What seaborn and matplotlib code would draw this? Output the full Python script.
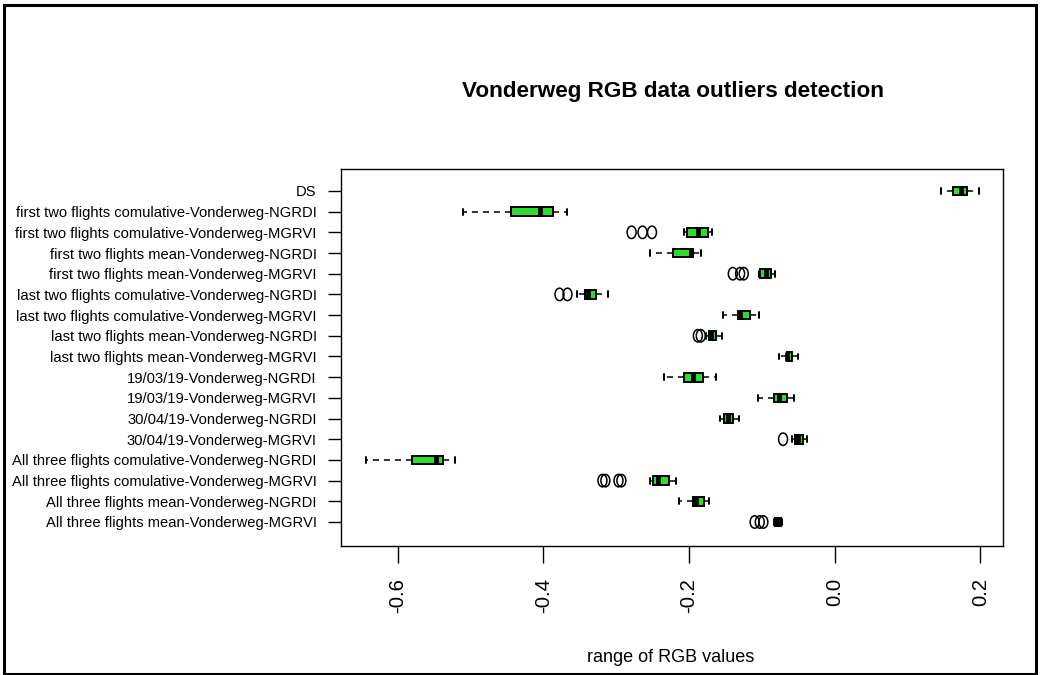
import matplotlib
matplotlib.use("Agg")
import matplotlib.pyplot as plt
import seaborn as sns
import pandas as pd
import numpy as np
from matplotlib.patches import Rectangle
from matplotlib.path import Path
from matplotlib.transforms import Affine2D

categories = [
    "DS",
    "first two flights comulative-Vonderweg-NGRDI",
    "first two flights comulative-Vonderweg-MGRVI",
    "first two flights mean-Vonderweg-NGRDI",
    "first two flights mean-Vonderweg-MGRVI",
    "last two flights comulative-Vonderweg-NGRDI",
    "last two flights comulative-Vonderweg-MGRVI",
    "last two flights mean-Vonderweg-NGRDI",
    "last two flights mean-Vonderweg-MGRVI",
    "19/03/19-Vonderweg-NGRDI",
    "19/03/19-Vonderweg-MGRVI",
    "30/04/19-Vonderweg-NGRDI",
    "30/04/19-Vonderweg-MGRVI",
    "All three flights comulative-Vonderweg-NGRDI",
    "All three flights comulative-Vonderweg-MGRVI",
    "All three flights mean-Vonderweg-NGRDI",
    "All three flights mean-Vonderweg-MGRVI",
]
whisker_low = [0.146, -0.511, -0.207, -0.254, -0.104, -0.354, -0.154, -0.177, -0.077,
               -0.234, -0.106, -0.158, -0.059, -0.644, -0.254, -0.214, -0.084]
q1 = [0.162, -0.444, -0.203, -0.222, -0.102, -0.343, -0.133, -0.173, -0.066,
      -0.207, -0.084, -0.152, -0.054, -0.581, -0.250, -0.195, -0.082]
median = [0.173, -0.405, -0.188, -0.198, -0.095, -0.339, -0.130, -0.170, -0.065,
          -0.195, -0.076, -0.147, -0.051, -0.547, -0.243, -0.190, -0.080]
q3 = [0.181, -0.387, -0.174, -0.194, -0.088, -0.328, -0.117, -0.163, -0.059,
      -0.181, -0.066, -0.140, -0.043, -0.538, -0.227, -0.180, -0.074]
whisker_high = [0.198, -0.368, -0.168, -0.184, -0.082, -0.312, -0.104, -0.155, -0.051,
                -0.163, -0.056, -0.132, -0.038, -0.521, -0.218, -0.173, -0.073]

outlier_cats = [
    "first two flights comulative-Vonderweg-MGRVI",
    "first two flights comulative-Vonderweg-MGRVI",
    "first two flights comulative-Vonderweg-MGRVI",
    "first two flights mean-Vonderweg-MGRVI",
    "first two flights mean-Vonderweg-MGRVI",
    "first two flights mean-Vonderweg-MGRVI",
    "last two flights comulative-Vonderweg-NGRDI",
    "last two flights comulative-Vonderweg-NGRDI",
    "last two flights mean-Vonderweg-NGRDI",
    "last two flights mean-Vonderweg-NGRDI",
    "30/04/19-Vonderweg-MGRVI",
    "All three flights comulative-Vonderweg-MGRVI",
    "All three flights comulative-Vonderweg-MGRVI",
    "All three flights comulative-Vonderweg-MGRVI",
    "All three flights comulative-Vonderweg-MGRVI",
    "All three flights mean-Vonderweg-MGRVI",
    "All three flights mean-Vonderweg-MGRVI",
    "All three flights mean-Vonderweg-MGRVI",
]
outlier_vals = [-0.279, -0.264, -0.251,
                -0.140, -0.130, -0.125,
                -0.378, -0.367,
                -0.188, -0.184,
                -0.071,
                -0.319, -0.315, -0.297, -0.293,
                -0.110, -0.103, -0.098]

title_text = "Vonderweg RGB data outliers detection"
xlabel_text = "range of RGB values"
xtick_values = [-0.6, -0.4, -0.2, 0.0, 0.2]
xtick_labels = ["-0.6", "-0.4", "-0.2", "0.0", "0.2"]

# long-form table built from the five-number summaries
rows = []
for i, cat in enumerate(categories):
    for v in (whisker_low[i], q1[i], median[i], q3[i], whisker_high[i]):
        rows.append({"category": cat, "value": v})
df = pd.DataFrame(rows)

sns.set_style("white")
FAM = ["Liberation Sans Narrow", "Liberation Sans", "DejaVu Sans"]
plt.rcParams["font.family"] = FAM
plt.rcParams["font.stretch"] = "condensed"

W, H = 1041, 675
fig = plt.figure(figsize=(W / 100, H / 100), dpi=100)
ax = fig.add_axes([341 / W, 1 - 546 / H, (1003 - 341) / W, (546 - 169) / H])

GREEN = "#2EDB2E"
CAP_LW = 1.4
sns.boxplot(
    data=df, x="value", y="category", order=categories, orient="y",
    whis=(0, 100), showfliers=False, width=0.42, color=GREEN, saturation=1,
    linecolor="black", linewidth=1.4, ax=ax,
    medianprops=dict(color="black", linewidth=3.4, solid_capstyle="butt"),
    whiskerprops=dict(color="black", linewidth=1.1, linestyle=(0, (4, 3.2))),
    capprops=dict(color="black", linewidth=CAP_LW),
    boxprops=dict(edgecolor="black", linewidth=1.4),
)

# widen whisker caps (R-style staples, half the box height)
for ln in ax.lines:
    xd = np.asarray(ln.get_xdata(), dtype=float)
    yd = np.asarray(ln.get_ydata(), dtype=float)
    if (len(xd) == 2 and abs(ln.get_linewidth() - CAP_LW) < 1e-6
            and np.isclose(xd[0], xd[1]) and not np.isclose(yd[0], yd[1])):
        c = yd.mean()
        ln.set_ydata([c - 0.14, c + 0.14])

ellipse = Path(Affine2D().scale(0.72, 1.0).transform(Path.unit_circle().vertices),
               Path.unit_circle().codes)
pos = [categories.index(c) for c in outlier_cats]
ax.scatter(outlier_vals, pos, s=80, marker=ellipse, facecolors="none",
           edgecolors="black", linewidths=1.1, zorder=5)

ax.set_xlim(-0.678, 0.231)
ax.set_ylim(len(categories) - 1 + 1.16, -1.06)
ax.set_xticks(xtick_values)
ax.set_xticklabels(xtick_labels, rotation=90)
ax.set_xlabel("")
ax.set_ylabel("")
for s in ax.spines.values():
    s.set_visible(True)
    s.set_color("black")
    s.set_linewidth(1.0)
ax.tick_params(axis="x", which="both", bottom=True, length=12, width=1.0,
               color="black", pad=11)
ax.tick_params(axis="y", which="both", left=True, length=9.5, width=1.0,
               color="black", pad=8)

fig.canvas.draw()
renderer = fig.canvas.get_renderer()


def fit(txt, target_px):
    w = txt.get_window_extent(renderer).width
    txt.set_fontsize(txt.get_fontsize() * target_px / w)


lbls = ax.get_yticklabels()
for t in lbls:
    t.set_fontsize(12)
fig.canvas.draw()
longest = max(lbls, key=lambda t: t.get_window_extent(renderer).width)
scale = 303 / longest.get_window_extent(renderer).width
for t in lbls:
    t.set_fontsize(12 * scale)
    t.set_color("black")

for t in ax.get_xticklabels():
    t.set_fontsize(15)
    t.set_color("black")
fig.canvas.draw()
ref = ax.get_xticklabels()[0]
xs = 35 / ref.get_window_extent(renderer).height
for t in ax.get_xticklabels():
    t.set_fontsize(15 * xs)

title = fig.text(673 / W, 1 - 91 / H, title_text, ha="center", va="center",
                 fontsize=18, fontweight="bold", color="black")
fig.canvas.draw()
fit(title, 422)

xl = fig.text(671 / W, 1 - 657 / H, xlabel_text, ha="center", va="center",
              fontsize=14, color="black")
fig.canvas.draw()
fit(xl, 168)

fig.patches.append(Rectangle((3.5 / W, 1.5 / H), (1036 - 3.5) / W, (670 - 1.5) / H,
                             transform=fig.transFigure, fill=False,
                             edgecolor="black", linewidth=2.2))

fig.savefig("out.png", dpi=100, facecolor="white")
